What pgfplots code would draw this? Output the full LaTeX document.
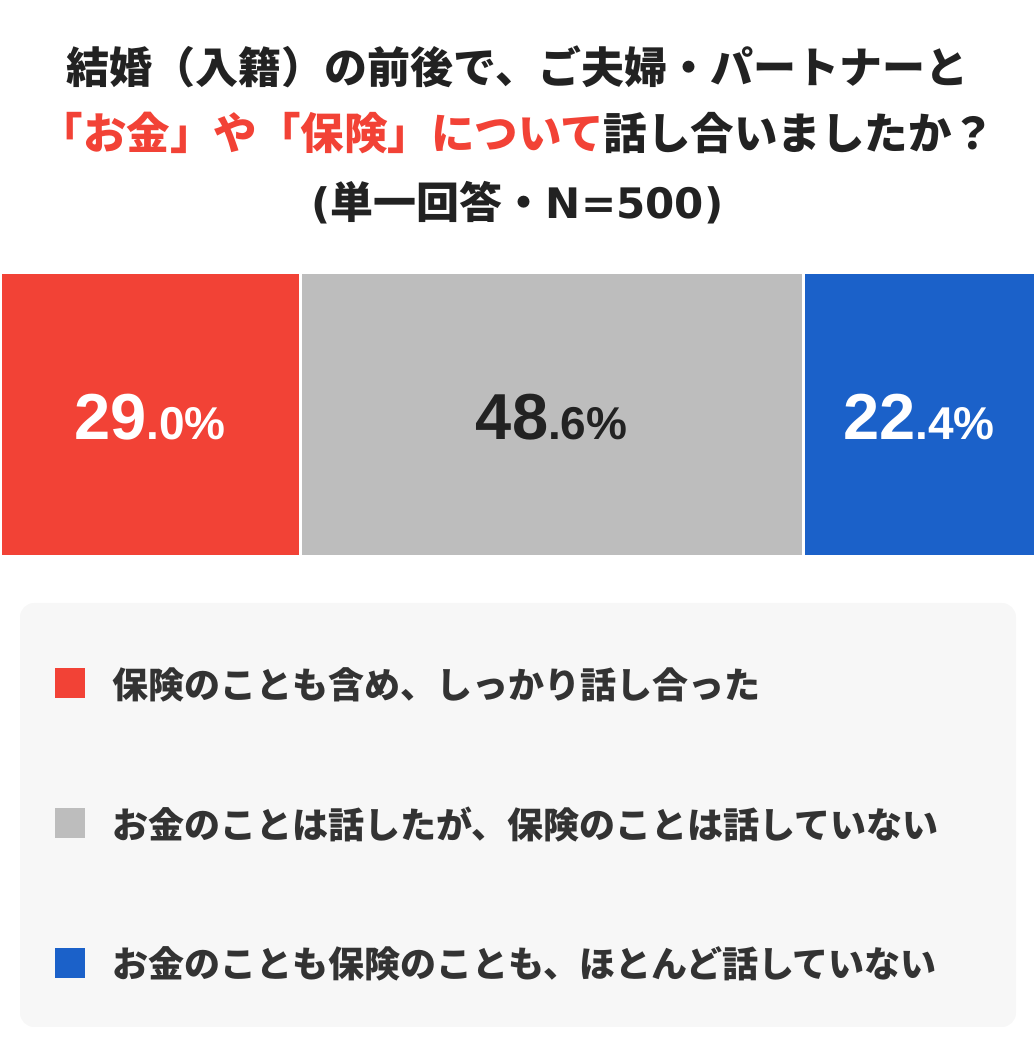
\documentclass[border=0pt]{standalone}
\usepackage{pgfplots}
\pgfplotsset{compat=1.18}
\usepackage{fontspec}
\setmainfont{Liberation Sans}
\newfontfamily\jp{Noto Sans CJK JP}
\newfontfamily\dv{DejaVu Sans}
\definecolor{cred}{HTML}{F24236}
\definecolor{cgray}{HTML}{BDBDBD}
\definecolor{cblue}{HTML}{1B61C9}
\definecolor{ctxt}{HTML}{222222}
\definecolor{clgd}{HTML}{333333}
\definecolor{cbg}{HTML}{F7F7F7}
\begin{document}
\begin{tikzpicture}
\path[use as bounding box] (0pt,0pt) rectangle (1035pt,1064pt);
\fill[cbg, rounded corners=14pt] (20pt,37pt) rectangle (1016pt,461pt);
\begin{axis}[
  at={(0pt,0pt)}, anchor=south west,
  scale only axis, width=1035pt, height=1064pt,
  xmin=0, xmax=100, ymin=0, ymax=1064,
  hide axis, clip=false,
  xbar stacked, bar width=284,
  legend cell align=left,
  legend style={draw=none, fill=none,
    at={(55/1035,1-667/1064)}, anchor=north west,
    inner sep=0pt, row sep=107pt, column sep=27pt,
    font=\jp\bfseries\fontsize{36}{36}\selectfont, text=clgd,
    nodes={inner sep=0pt}},
  legend image code/.code={\fill[#1,draw=none] (0pt,-15pt) rectangle (30pt,15pt);},
]
\addplot[fill=cred, draw=white, line width=3pt] coordinates {(29.0,649)};
\addlegendentry{保険のことも含め、しっかり話し合った}
\addplot[fill=cgray, draw=white, line width=3pt] coordinates {(48.6,649)};
\addlegendentry{お金のことは話したが、保険のことは話していない}
\addplot[fill=cblue, draw=white, line width=3pt] coordinates {(22.4,649)};
\addlegendentry{お金のことも保険のことも、ほとんど話していない}

\coordinate (L1) at (axis cs:14.5,624);
\coordinate (L2) at (axis cs:53.3,624);
\coordinate (L3) at (axis cs:88.8,624);

\node[inner sep=0pt, text=ctxt, font=\jp\bfseries\fontsize{43}{43}\selectfont]
  at (axis cs:50,997) {結婚（入籍）の前後で、ご夫婦・パートナーと};
\node[inner sep=0pt, text=ctxt, font=\jp\bfseries\fontsize{43.5}{43.5}\selectfont]
  at (axis cs:50,931) {\textcolor{cred}{「お金」や「保険」について}話し合いましたか？};
\node[inner sep=0pt, text=ctxt, font=\jp\bfseries\fontsize{43}{43}\selectfont]
  at (axis cs:50,861) {{\dv\bfseries\fontsize{42}{42}\selectfont(}単一回答・{\dv\bfseries\fontsize{42}{42}\selectfont N=500)}};
\end{axis}
\node[anchor=base, text=white, inner sep=0pt] at (L1)
  {\bfseries\fontsize{65}{65}\selectfont 29\fontsize{46}{46}\selectfont .0\%};
\node[anchor=base, text=ctxt, inner sep=0pt] at (L2)
  {\bfseries\fontsize{65}{65}\selectfont 48\fontsize{46}{46}\selectfont .6\%};
\node[anchor=base, text=white, inner sep=0pt] at (L3)
  {\bfseries\fontsize{65}{65}\selectfont 22\fontsize{46}{46}\selectfont .4\%};
\end{tikzpicture}
\end{document}
